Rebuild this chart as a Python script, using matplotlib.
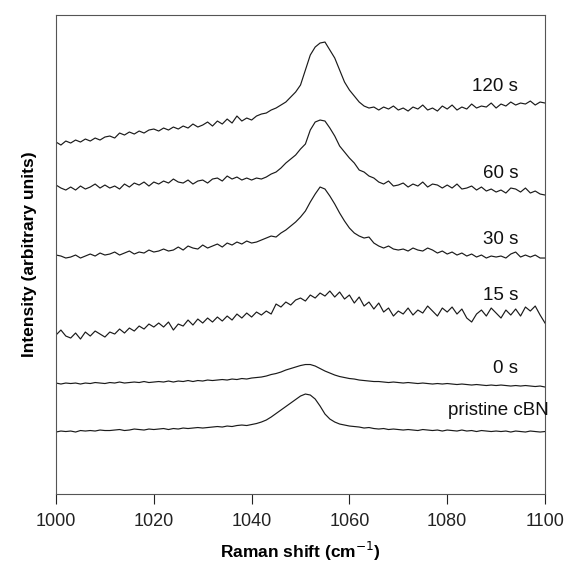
import numpy as np
import matplotlib.pyplot as plt

plt.rcParams['font.family'] = ['Liberation Sans', 'DejaVu Sans']

# Raman shift axis (cm^-1), 1 cm^-1 step
shift = np.arange(1000, 1101, 1)

# intensities, already stacked (arbitrary units)
s120 = [352, 349, 353, 351, 354, 352, 355, 353, 356, 354, 357,
        358, 356, 361, 359, 362, 360, 363, 361, 364, 365,
        363, 366, 364, 367, 365, 368, 366, 370, 367, 369,
        372, 368, 373, 370, 375, 371, 378, 373, 376, 374,
        378, 380, 381, 384, 386, 389, 392, 397, 402, 409,
        424, 439, 447, 451, 452, 444, 436, 424, 412, 404,
        398, 392, 388, 386, 387, 384, 387, 385, 388, 384,
        386, 383, 387, 385, 389, 384, 386, 383, 388, 385,
        389, 384, 387, 385, 390, 386, 388, 387, 391, 386,
        390, 388, 392, 389, 391, 390, 393, 389, 392, 391]

s60 = [309, 306, 304, 307, 304, 308, 305, 307, 310, 306, 309,
       306, 308, 305, 310, 307, 311, 309, 312, 308, 312,
       310, 313, 311, 315, 312, 311, 314, 310, 313, 314,
       311, 315, 316, 313, 318, 315, 317, 314, 316, 314,
       316, 315, 317, 320, 322, 326, 331, 335, 339, 345,
       350, 364, 372, 374, 373, 366, 358, 348, 342, 336,
       331, 324, 322, 318, 316, 312, 310, 313, 308, 309,
       311, 307, 310, 308, 312, 307, 310, 309, 306, 309,
       306, 310, 305, 306, 308, 304, 307, 303, 305, 302,
       304, 301, 306, 305, 302, 306, 301, 303, 300, 299]

s30 = [239, 238, 236, 237, 239, 236, 238, 240, 238, 241, 239,
       240, 242, 239, 241, 243, 240, 242, 241, 244, 242,
       243, 245, 243, 244, 247, 244, 248, 246, 245, 249,
       246, 248, 250, 247, 251, 249, 252, 250, 253, 251,
       252, 254, 256, 258, 257, 261, 264, 268, 272, 277,
       283, 292, 300, 307, 305, 298, 290, 281, 273, 266,
       261, 258, 256, 257, 251, 248, 246, 248, 245, 244,
       245, 243, 246, 244, 243, 246, 244, 241, 243, 240,
       242, 239, 241, 238, 240, 237, 239, 236, 238, 237,
       238, 236, 240, 242, 237, 239, 237, 239, 236, 236]

s15 = [159, 164, 158, 156, 161, 155, 162, 158, 163, 160, 157,
       162, 160, 165, 161, 166, 163, 168, 165, 170, 167,
       171, 167, 172, 164, 170, 168, 174, 169, 175, 171,
       176, 172, 177, 173, 178, 174, 180, 176, 181, 177,
       182, 179, 183, 180, 190, 187, 192, 189, 194, 196,
       193, 199, 196, 201, 198, 203, 197, 202, 195, 199,
       191, 197, 188, 192, 185, 191, 182, 186, 178, 183,
       180, 186, 179, 184, 181, 188, 183, 178, 186, 182,
       187, 180, 185, 176, 172, 180, 184, 178, 186, 181,
       176, 184, 179, 185, 178, 187, 183, 188, 179, 171]

s0 = [111, 110, 111, 110.5, 111, 110, 111, 110.5, 111.5, 111, 110.5,
      111.5, 111, 112, 111, 111.5, 112, 111.5, 112.5, 111.5, 112,
      112.5, 112, 113, 112, 113, 112.5, 113.5, 112.5, 113.5, 113,
      114, 113.5, 114, 114.5, 114, 115, 114.5, 115.5, 115, 116,
      116.5, 117, 118, 119.5, 120.5, 122, 124, 125.5, 127, 128.5,
      129.5, 129.5, 128, 125.5, 123, 121, 119, 117.5, 116.5, 115.5,
      115, 114, 113.5, 113, 112.5, 112.5, 112, 111.5, 112, 111.5,
      111, 111.5, 111, 110.5, 111, 110.5, 110, 110.5, 110, 110.5,
      110, 109.5, 110, 109.5, 109, 109.5, 109, 108.5, 109, 108.5,
      109, 108.5, 108, 108.5, 108, 108.5, 108, 107.5, 108, 107]

pristine = [62, 63, 62.5, 63, 62, 63.5, 63, 63.5, 63, 64, 63.5,
            63.5, 64, 64.5, 63.5, 64, 65, 64.5, 64, 65, 64.5,
            65, 65.5, 64.5, 65.5, 65, 66, 65.5, 66, 66.5, 66,
            66.5, 67, 67.5, 67, 68, 67.5, 68.5, 69, 68.5, 69.5,
            70.5, 72, 74, 77, 80.5, 84, 87.5, 91, 94.5, 98,
            100, 99, 95, 88, 80, 75, 72, 70, 69, 68,
            67.5, 67, 66, 66.5, 65.5, 65, 65.5, 64.5, 65, 64.5,
            64, 64.5, 64, 63.5, 64.5, 64, 63.5, 64, 63, 64,
            63.5, 63, 64, 63, 63.5, 62.5, 63.5, 63, 62.5, 63,
            62.5, 63, 62, 63, 62.5, 62, 63, 62.5, 62, 62.5]

spectra = [s120, s60, s30, s15, s0, pristine]
labels = ["120 s", "60 s", "30 s", "15 s", "0 s", "pristine cBN"]
# label positions (x in cm^-1, y in intensity units)
label_x = [1094.5, 1094.5, 1094.5, 1094.5, 1094.5, 1100.8]
label_y = [408, 321, 255, 199, 126, 84]

fig = plt.figure(figsize=(5.67, 5.67), dpi=100)
ax = fig.add_axes([0.0988, 0.1287, 0.8624, 0.8448])

for y in spectra:
    ax.plot(shift, y, color='#1a1a1a', lw=0.85)

for txt, lx, ly in zip(labels, label_x, label_y):
    ax.text(lx, ly, txt, ha='right', va='center', fontsize=13.5,
            color='#111111')

ax.set_xlim(1000, 1100)
ax.set_ylim(0, 479)
ax.set_xticks(np.arange(1000, 1101, 20))
ax.set_yticks([])
ax.tick_params(axis='x', direction='out', length=7, width=0.8,
               labelsize=13, pad=7, colors='#222222')
for sp in ax.spines.values():
    sp.set_color('#555555')
    sp.set_linewidth(0.8)

ax.set_xlabel("Raman shift (cm$^{-1}$)", fontsize=12.5, fontweight='bold',
              labelpad=7)
ax.set_ylabel("Intensity (arbitrary units)", fontsize=12.5,
              fontweight='bold', labelpad=14)

fig.savefig("out.png", dpi=100)
